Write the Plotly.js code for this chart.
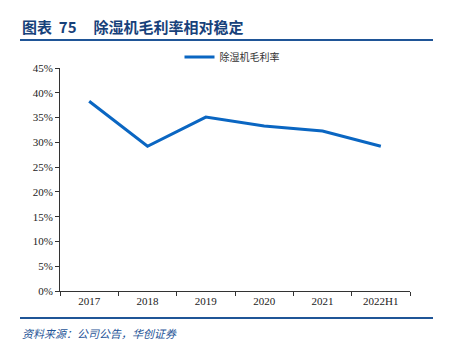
<!DOCTYPE html>
<html><head><meta charset="utf-8">
<script src="https://cdn.plot.ly/plotly-3.0.1.min.js"></script>
<style>html,body{margin:0;padding:0;background:#fff}</style>
</head><body><div id="chart" style="width:452px;height:361px"></div>
<script>
const categories = ["2017","2018","2019","2020","2021","2022H1"];
const margin = [38.3, 29.2, 35.1, 33.3, 32.3, 29.2];
const seriesName = "除湿机毛利率";
const yTicks = [0,5,10,15,20,25,30,35,40,45];
const yTickText = yTicks.map(v => v + "%");

const W = 452, H = 361;
const L = 60, R = 42, T = 68, B = 70;
const pw = W - L - R, ph = H - T - B;
function px(x){ return (x - L) / pw; }
function py(y){ return (H - B - y) / ph; }

const trace = {
  x: categories, y: margin, name: seriesName, type: "scatter", mode: "lines",
  line: {color: "#0a66c2", width: 3}
};
const layout = {
  width: W, height: H,
  margin: {l: L, r: R, t: T, b: B},
  paper_bgcolor: "#fff", plot_bgcolor: "#fff",
  showlegend: true,
  legend: {orientation: "h", x: px(232), xanchor: "center", y: py(57), yanchor: "middle",
    font: {family: "Noto Sans CJK SC", size: 10, color: "#333"}, bgcolor: "rgba(0,0,0,0)"},
  xaxis: {
    type: "category", tickson: "boundaries", ticks: "outside", ticklen: 4, tickcolor: "#333",
    showline: true, linecolor: "#333", linewidth: 1, showgrid: false, zeroline: false,
    tickfont: {family: "Liberation Serif", size: 11, color: "#222"},
    range: [-0.5, 5.5]
  },
  yaxis: {
    range: [0, 45], tickvals: yTicks, ticktext: yTickText, ticks: "outside", ticklen: 4,
    tickcolor: "#333", showline: true, linecolor: "#333", linewidth: 1,
    showgrid: false, zeroline: false,
    tickfont: {family: "Liberation Serif", size: 11, color: "#222"}
  },
  shapes: [
    {type: "line", xref: "paper", yref: "paper", x0: px(20), x1: px(433), y0: py(40), y1: py(40),
      line: {color: "#1f5597", width: 2}},
    {type: "line", xref: "paper", yref: "paper", x0: px(20), x1: px(433), y0: py(318), y1: py(318),
      line: {color: "#1f5597", width: 2}}
  ],
  annotations: [
    {xref: "paper", yref: "paper", x: px(20), y: py(27), xanchor: "left", yanchor: "middle",
      text: "<b>图表  75     除湿机毛利率相对稳定</b>", showarrow: false,
      font: {family: "Noto Sans CJK SC", size: 15, color: "#17417a"}},
    {xref: "paper", yref: "paper", x: px(20), y: py(333), xanchor: "left", yanchor: "middle",
      text: "<i>资料来源：公司公告，华创证券</i>", showarrow: false,
      font: {family: "Noto Sans CJK SC", size: 11, color: "#1f5597"}}
  ]
};
Plotly.newPlot("chart", [trace], layout, {displayModeBar: false, staticPlot: true});
</script></body></html>
